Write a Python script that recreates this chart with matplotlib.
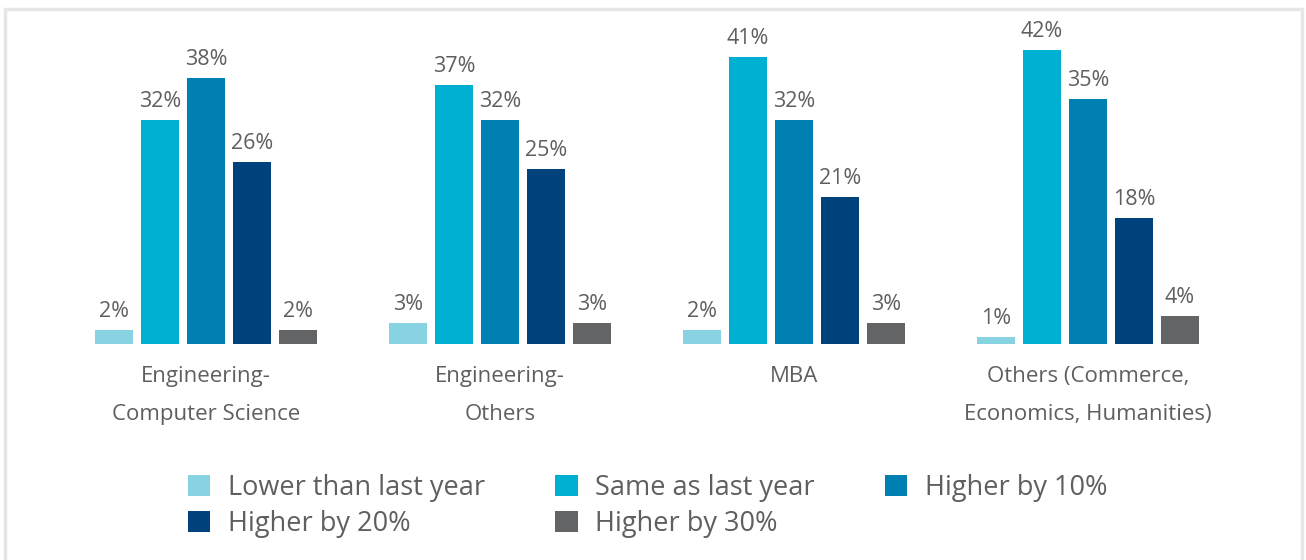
import numpy as np
import matplotlib.pyplot as plt
from matplotlib.patches import Rectangle

plt.rcParams['font.family'] = ['Open Sans', 'DejaVu Sans']

# data
categories = ["Engineering-\nComputer Science", "Engineering-\nOthers", "MBA",
              "Others (Commerce,\nEconomics, Humanities)"]
series = ["Lower than last year", "Same as last year", "Higher by 10%",
          "Higher by 20%", "Higher by 30%"]
lower = [2, 3, 2, 1]
same = [32, 37, 41, 42]
higher10 = [38, 32, 32, 35]
higher20 = [26, 25, 21, 18]
higher30 = [2, 3, 3, 4]
colors = ["#88d3e2", "#00b0d2", "#0080b2", "#00427c", "#636466"]
text_color = "#5f5f5f"

values = [lower, same, higher10, higher20, higher30]

fig = plt.figure(figsize=(13.06, 5.6), dpi=100)
ax = fig.add_axes([59 / 1306, 1 - 344 / 560, 1176 / 1306, 308 / 560])

x = np.arange(len(categories))
step = 0.1565
width = 0.129
bars = []
for j, (vals, name) in enumerate(zip(values, series)):
    b = ax.bar(x + (j - 2) * step, vals, width, color=colors[j], label=name)
    bars.append(b)
    for rect, v in zip(b, vals):
        ax.text(rect.get_x() + rect.get_width() / 2, rect.get_height() + 1.1,
                f"{v}%", ha="center", va="bottom", fontsize=15.5, color=text_color)

ax.set_xlim(-0.5, 3.5)
ax.set_ylim(0, 44)
ax.set_xticks(x)
ax.set_xticklabels(categories, fontsize=16, color=text_color, linespacing=2.05,
                   va="top")
ax.tick_params(axis="x", length=0, pad=16)
ax.set_yticks([])
for s in ax.spines.values():
    s.set_visible(False)

# legend filled row by row
order = [0, 3, 1, 4, 2]
handles = [bars[i] for i in order]
labels = [series[i] for i in order]
leg = fig.legend(handles, labels, loc="upper left", bbox_to_anchor=(188 / 1306, 1 - 474 / 560),
                 ncol=3, frameon=False, fontsize=19.5, handlelength=0.82,
                 handleheight=0.82, handletextpad=0.65, columnspacing=2.6,
                 labelspacing=0.3, borderaxespad=0, borderpad=0)
for t in leg.get_texts():
    t.set_color(text_color)

# light frame around the chart
fig.patches.append(Rectangle((5 / 1306, -0.05), 1297 / 1306, 1.05 - 9 / 560,
                             transform=fig.transFigure, fill=False,
                             edgecolor="#e6e6e6", linewidth=2.5))

fig.savefig("out.png", dpi=100, facecolor="white")
